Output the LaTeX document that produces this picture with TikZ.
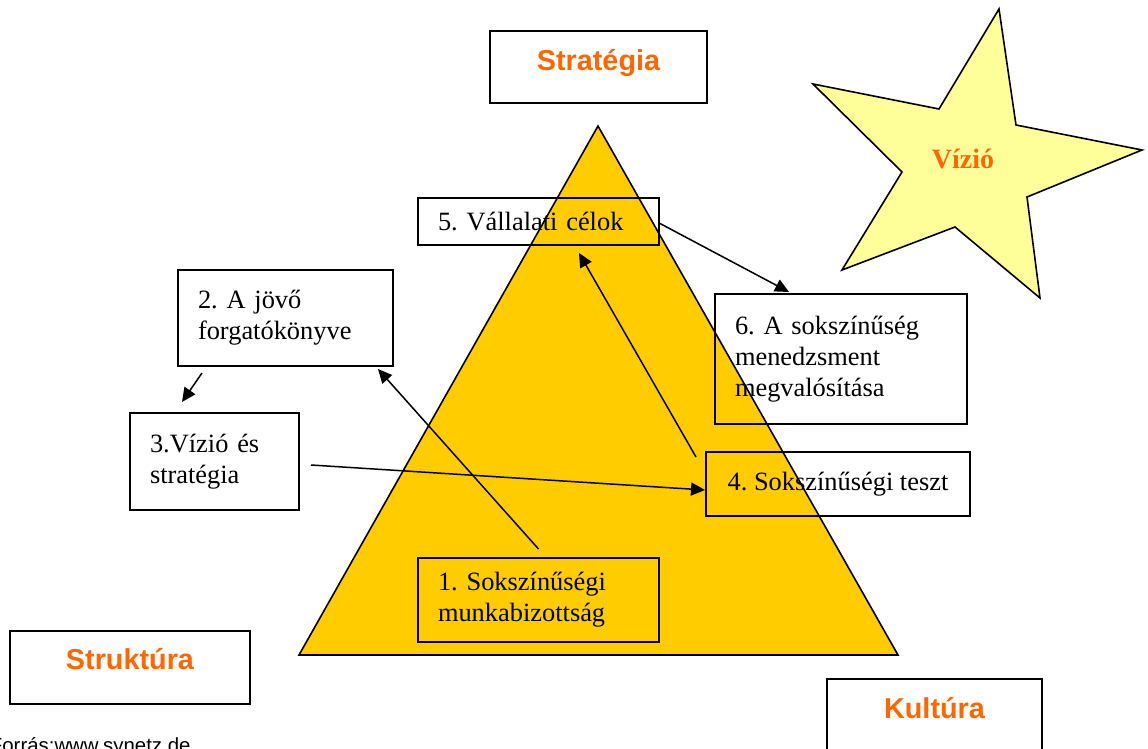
\documentclass[tikz,border=0pt]{standalone}
\usepackage{fontspec}
\setmainfont{Liberation Serif}
\setsansfont{Liberation Sans}
\usepackage{xcolor}
\usepackage{tikz}
\usetikzlibrary{calc,arrows.meta,arrows}

\definecolor{pyr}{HTML}{FFCC00}
\definecolor{starfill}{HTML}{FFFF99}
\definecolor{narancs}{HTML}{FF6600}
\frenchspacing

\begin{document}
\begin{tikzpicture}[x=0.5pt,y=-0.5pt,
    head/.style={draw,line width=1pt,anchor=north,inner ysep=0pt,
      font=\sffamily\bfseries\fontsize{14.4}{16}\selectfont,text=narancs},
    lep/.style={draw,line width=1pt,align=left,inner xsep=10pt,inner ysep=0pt,
      font=\fontsize{13.2}{15.4}\selectfont},
    nyil/.style={line width=0.75pt,-{Triangle[length=7pt,width=6.5pt]}}]
    \clip (0,0) rectangle (1148,749);
    \useasboundingbox (0,0) rectangle (1148,749);

    % piramis es csillag
    \draw[fill=pyr,line width=0.8pt] (598,126) -- (299,655) -- (898,655) -- cycle;
    \draw[fill=starfill,line width=0.8pt] (999,9) -- (1016,125) -- (1142,150)
      -- (1027,197) -- (1040,298) -- (955,227) -- (842,270) -- (902,172)
      -- (813,84) -- (939,109) -- cycle;
    \node[font=\bfseries\fontsize{14}{16}\selectfont,text=narancs] (viz) at (963,159) {Vízió};

    % sarkok
    \node[head,minimum width=108.5pt,text height=20pt,text depth=16pt] (strat) at (598.5,30) {Stratégia};
    \node[head,minimum width=120pt,text height=19pt,text depth=17.5pt] (struk) at (130,630) {Struktúra};
    \node[head,minimum width=107.5pt,text height=19.5pt,text depth=17.5pt] (kult) at (934.5,678) {Kultúra};

    % lepesek
    \node[lep,text width=100.5pt,minimum height=42pt] (v1) at (538.5,600) {1. Sokszínűségi\\munkabizottság};
    \node[lep,text width=87.5pt,minimum height=48pt] (v2) at (285.5,318) {2. A jövő\\forgatókönyve};
    \node[lep,text width=64.5pt,minimum height=48.5pt] (v3) at (214.5,461.5) {3.Vízió és\\stratégia};
    \node[lep,minimum width=132pt,minimum height=32pt] (v4) at (838,484) {4. Sokszínűségi teszt};
    \node[lep,text width=100.5pt,minimum height=23.5pt] (v5) at (538.5,221.5) {5. Vállalati célok};
    \node[lep,text width=106pt,minimum height=65pt] (v6) at (841,359) {6. A sokszínűség\\menedzsment\\megvalósítása};

    \node[font=\sffamily\fontsize{10.2}{12}\selectfont,anchor=base west,inner sep=0pt] (forras) at (-10.5,752) {Forrás:www.synetz.de};

    \draw[nyil] ([yshift=4pt]v1.north) to ([xshift=-8pt,yshift=-1pt]v2.south east);
    \draw[nyil] ([xshift=12.5pt,yshift=-3pt]v2.south west) to ([xshift=26.5pt,yshift=5pt]v3.north west);
    \draw[nyil] ([xshift=5.5pt,yshift=-1.75pt]v3.east) to ([yshift=-3pt]v4.west);
    \draw[nyil] ([xshift=-4.5pt,yshift=-3pt]v4.north west) to ([xshift=81pt,yshift=-3.5pt]v5.south west);
    \draw[nyil] ([yshift=-1pt]v5.east) to ([xshift=37.5pt,yshift=0.5pt]v6.north west);
  \end{tikzpicture}
\end{document}
